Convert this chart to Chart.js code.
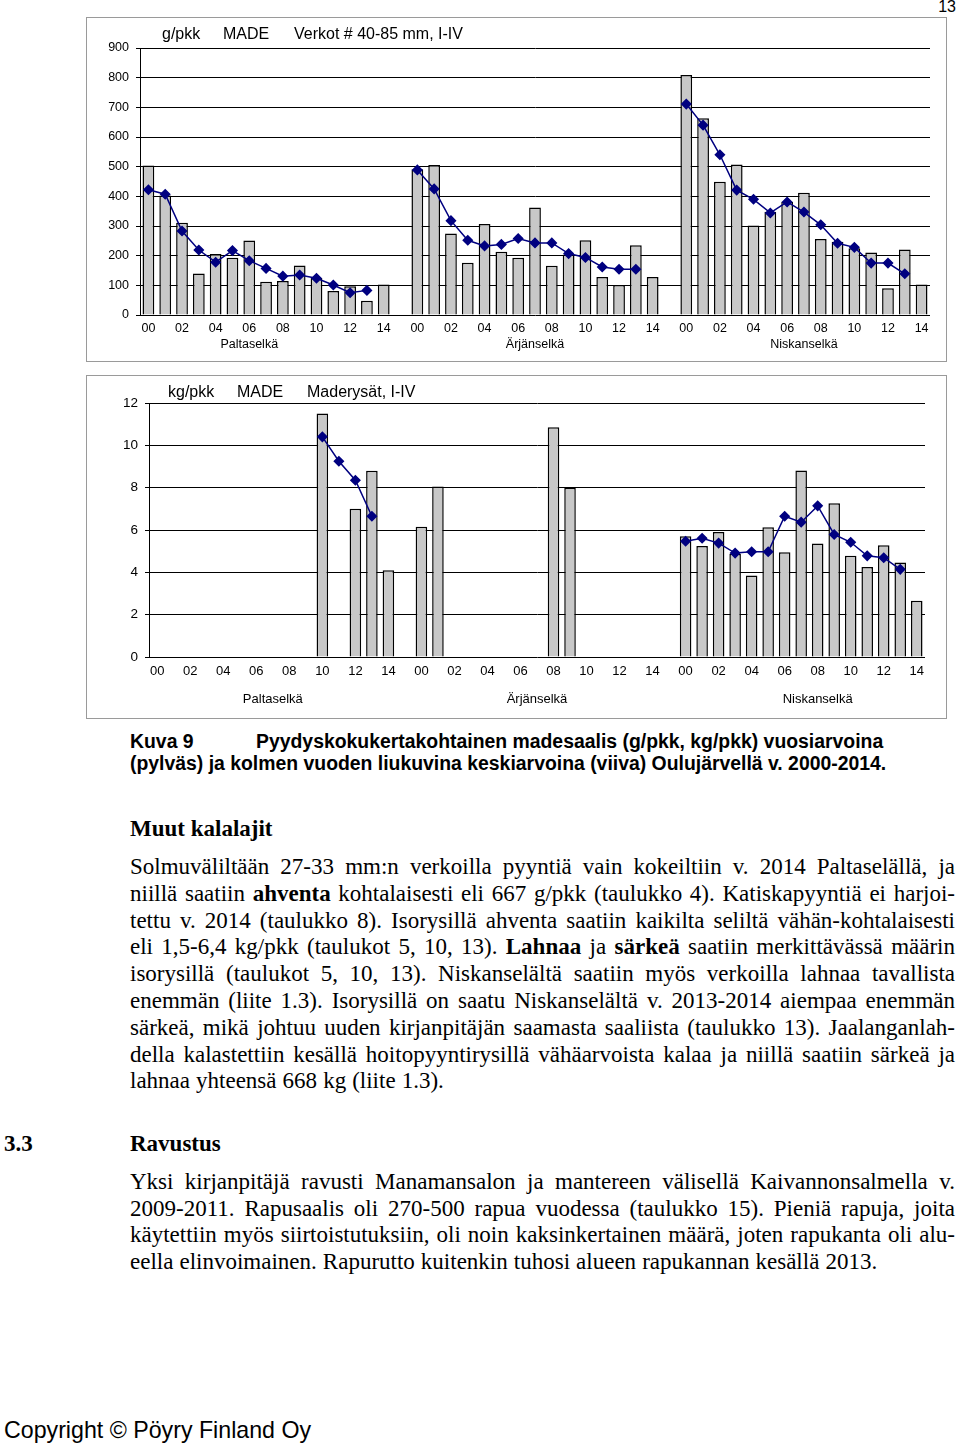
<!DOCTYPE html>
<html lang="fi">
<head>
<meta charset="utf-8">
<title>Madesaalis</title>
<script src="https://cdn.jsdelivr.net/npm/chart.js@4.4.1/dist/chart.umd.min.js"></script>
<style>
  body { margin: 0; width: 960px; height: 1446px; position: relative; overflow: hidden;
         background: #fff; color: #000; font-family: "Liberation Serif", "Times New Roman", serif; }
  .box { position: absolute; left: 86px; width: 861px; border: 1px solid #9a9a9a;
         box-sizing: border-box; background: #fff; }
  #box1 { top: 17px; height: 345px; }
  #box2 { top: 375px; height: 344px; }
  .ctitle { position: absolute; font: 16px/18px "Liberation Sans", Arial, sans-serif; white-space: pre; }
  .sans { position: absolute; font-family: "Liberation Sans", Arial, sans-serif; white-space: pre; }
  .cap { position: absolute; font: bold 19.4px/22px "Liberation Sans Narrow", "Arial Narrow", "Liberation Sans", sans-serif;
         white-space: pre; }
  .head { position: absolute; font: bold 23px/27px "Liberation Serif", serif; white-space: pre; }
  .ln { position: absolute; left: 130px; width: 825px; font-size: 23px; line-height: 27px;
        word-spacing: -1px; text-align: justify; text-align-last: justify; }
  .ln.last { text-align: left; text-align-last: left; word-spacing: 0.3px; }
</style>
</head>
<body>
<div class="sans" style="right:4px; top:-2px; font-size:16px; line-height:18px;">13</div>

<div class="box" id="box1"><canvas id="chartG"></canvas></div>
<div class="ctitle" style="left:162px; top:25px;">g/pkk</div>
<div class="ctitle" style="left:223px; top:25px;">MADE</div>
<div class="ctitle" style="left:294px; top:25px;">Verkot # 40-85 mm, I-IV</div>

<div class="box" id="box2"><canvas id="chartKg"></canvas></div>
<div class="ctitle" style="left:168px; top:383px;">kg/pkk</div>
<div class="ctitle" style="left:237px; top:383px;">MADE</div>
<div class="ctitle" style="left:307px; top:383px;">Maderysät, I-IV</div>

<div class="cap" style="left:130px; top:730px;">Kuva 9</div>
<div class="cap" style="left:256px; top:730px;">Pyydyskokukertakohtainen madesaalis (g/pkk, kg/pkk) vuosiarvoina</div>
<div class="cap" style="left:130px; top:752px;">(pylväs) ja kolmen vuoden liukuvina keskiarvoina (viiva) Oulujärvellä v. 2000-2014.</div>

<div class="head" style="left:130px; top:815px;">Muut kalalajit</div>
<div class="ln" style="top:853px;">Solmuväliltään 27-33 mm:n verkoilla pyyntiä vain kokeiltiin v. 2014 Paltaselällä, ja</div>
<div class="ln" style="top:880px;">niillä saatiin <b>ahventa</b> kohtalaisesti eli 667 g/pkk (taulukko 4). Katiskapyyntiä ei harjoi-</div>
<div class="ln" style="top:907px;">tettu v. 2014 (taulukko 8). Isorysillä ahventa saatiin kaikilta seliltä vähän-kohtalaisesti</div>
<div class="ln" style="top:933px;">eli 1,5-6,4 kg/pkk (taulukot 5, 10, 13). <b>Lahnaa</b> ja <b>särkeä</b> saatiin merkittävässä määrin</div>
<div class="ln" style="top:960px;">isorysillä (taulukot 5, 10, 13). Niskanselältä saatiin myös verkoilla lahnaa tavallista</div>
<div class="ln" style="top:987px;">enemmän (liite 1.3). Isorysillä on saatu Niskanselältä v. 2013-2014 aiempaa enemmän</div>
<div class="ln" style="top:1014px;">särkeä, mikä johtuu uuden kirjanpitäjän saamasta saaliista (taulukko 13). Jaalanganlah-</div>
<div class="ln" style="top:1041px;">della kalastettiin kesällä hoitopyyntirysillä vähäarvoista kalaa ja niillä saatiin särkeä ja</div>
<div class="ln last" style="top:1067px;">lahnaa yhteensä 668 kg (liite 1.3).</div>

<div class="head" style="left:4px; top:1130px;">3.3</div>
<div class="head" style="left:130px; top:1130px;">Ravustus</div>
<div class="ln" style="top:1168px;">Yksi kirjanpitäjä ravusti Manamansalon ja mantereen välisellä Kaivannonsalmella v.</div>
<div class="ln" style="top:1195px;">2009-2011. Rapusaalis oli 270-500 rapua vuodessa (taulukko 15). Pieniä rapuja, joita</div>
<div class="ln" style="top:1221px;">käytettiin myös siirtoistutuksiin, oli noin kaksinkertainen määrä, joten rapukanta oli alu-</div>
<div class="ln last" style="top:1248px;">eella elinvoimainen. Rapurutto kuitenkin tuhosi alueen rapukannan kesällä 2013.</div>

<div class="sans" style="left:4px; top:1417px; font-size:23.2px; line-height:26px;">Copyright © Pöyry Finland Oy</div>

<script>
const areas = ["Paltaselkä", "Ärjänselkä", "Niskanselkä"];
const years = ["00", "01", "02", "03", "04", "05", "06", "07", "08", "09", "10", "11", "12", "13", "14"];

// g/pkk, verkot # 40-85 mm (pylväs = vuosiarvo, viiva = 3 v liukuva ka)
const gBarPalta = [504, 403, 311, 140, 206, 193, 251, 112, 115, 167, 125, 81, 97, 48, 103];
const gBarArjan = [491, 506, 275, 176, 307, 213, 193, 362, 166, 204, 252, 128, 101, 235, 128];
const gBarNiska = [809, 663, 449, 507, 302, 348, 382, 412, 256, 247, 225, 211, 90, 221, 103];
const gLinePalta = [422, 407, 283, 219, 178, 217, 183, 157, 131, 135, 124, 101, 75, 83, null];
const gLineArjan = [489, 425, 318, 252, 233, 238, 258, 243, 243, 207, 194, 162, 154, 154, null];
const gLineNiska = [711, 640, 540, 421, 390, 344, 381, 347, 304, 242, 228, 175, 175, 139, null];

// kg/pkk, maderysät
const kgBarPalta = [null, null, null, null, null, null, null, null, null, null, 11.5, null, 7.0, 8.8, 4.1];
const kgBarArjan = [6.15, 8.05, null, null, null, null, null, null, 10.85, 8.0, null, null, null, null, null];
const kgBarNiska = [5.71, 5.25, 5.91, 4.88, 3.85, 6.13, 4.95, 8.81, 5.36, 7.26, 4.78, 4.25, 5.28, 4.47, 2.66];
const kgLinePalta = [null, null, null, null, null, null, null, null, null, null, 10.4, 9.25, 8.35, 6.65, null];
const kgLineArjan = [null, null, null, null, null, null, null, null, null, null, null, null, null, null, null];
const kgLineNiska = [5.47, 5.61, 5.38, 4.91, 4.97, 4.97, 6.65, 6.37, 7.14, 5.79, 5.42, 4.78, 4.69, 4.14, null];

const yTicksG = { max: 900, step: 100 };
const yTicksKg = { max: 12, step: 2 };

// one empty slot between the areas
function joinAreas(parts, gap) {
  const out = [];
  parts.forEach((p, i) => {
    if (i > 0) out.push(gap);
    out.push(...p);
  });
  return out;
}

const categories = joinAreas(areas.map(a => years.map(y => a + " " + y)), "");

function tickLabel(index, namePos, blankLines) {
  const slot = index % 16;
  const area = Math.floor(index / 16);
  if (slot === 15) return "";
  const yr = slot % 2 === 0 ? years[slot] : "";
  if (slot === namePos[area]) {
    return [yr].concat(Array(blankLines).fill(""), [areas[area]]);
  }
  return yr;
}

Chart.defaults.font.family = "'Liberation Sans', Arial, sans-serif";
Chart.defaults.color = "#000";

function makeChart(id, cfg) {
  new Chart(document.getElementById(id), {
    type: "bar",
    data: {
      labels: categories,
      datasets: [
        {
          type: "line",
          data: cfg.line,
          borderColor: "#000080",
          backgroundColor: "#000080",
          borderWidth: 1.5,
          pointStyle: "rectRot",
          pointRadius: 4.5,
          pointHoverRadius: 4.5,
          tension: 0,
          order: 0,
        },
        {
          type: "bar",
          data: cfg.bar,
          backgroundColor: "#c8c8c8",
          borderColor: "#000",
          borderWidth: 1.5,
          barPercentage: 0.7,
          categoryPercentage: 1,
          order: 1,
        },
      ],
    },
    options: {
      responsive: true,
      maintainAspectRatio: false,
      animation: false,
      layout: { padding: cfg.padding },
      plugins: {
        legend: { display: false },
        tooltip: { enabled: false },
      },
      scales: {
        x: {
          grid: { display: false, drawTicks: false },
          border: { display: false },
          ticks: {
            autoSkip: false,
            maxRotation: 0,
            minRotation: 0,
            padding: cfg.xPad,
            font: { size: cfg.xFont, lineHeight: cfg.xLine },
            callback: (v, i) => tickLabel(i, cfg.namePos, cfg.blank),
          },
          afterFit: s => { s.height = cfg.xHeight; },
        },
        y: {
          min: 0,
          max: cfg.ticks.max,
          ticks: { stepSize: cfg.ticks.step, padding: 7, font: { size: cfg.yFont } },
          grid: { color: "#000", lineWidth: 1, tickLength: 4 },
          border: { display: true, color: "#000", width: 1 },
          afterFit: s => { s.width = cfg.yWidth; },
        },
      },
    },
  });
}

makeChart("chartG", {
  bar: joinAreas([gBarPalta, gBarArjan, gBarNiska], null),
  line: joinAreas([gLinePalta, gLineArjan, gLineNiska], null),
  ticks: yTicksG,
  padding: { left: 0, right: 16, top: 30, bottom: 6 },
  yWidth: 53,
  xHeight: 40,
  xPad: 6,
  xFont: 12.5,
  xLine: 1.28,
  yFont: 12.5,
  namePos: [6, 7, 7],
  blank: 0,
});

makeChart("chartKg", {
  bar: joinAreas([kgBarPalta, kgBarArjan, kgBarNiska], null),
  line: joinAreas([kgLinePalta, kgLineArjan, kgLineNiska], null),
  ticks: yTicksKg,
  padding: { left: 0, right: 21, top: 27, bottom: 6 },
  yWidth: 62,
  xHeight: 55,
  xPad: 7,
  xFont: 13,
  xLine: 1.08,
  yFont: 13.5,
  namePos: [7, 7, 8],
  blank: 1,
});
</script>
</body>
</html>
